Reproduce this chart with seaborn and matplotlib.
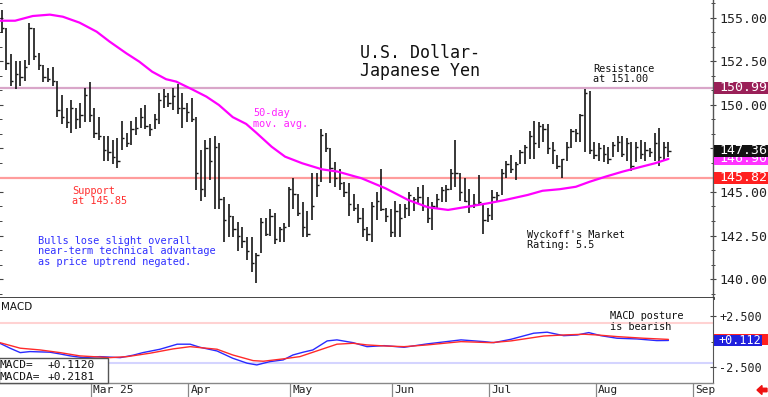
import numpy as np
import pandas as pd
import matplotlib
matplotlib.use('Agg')
import matplotlib.pyplot as plt
import seaborn as sns
from matplotlib.patches import Rectangle, FancyArrow
from matplotlib.ticker import AutoMinorLocator

# ---------------- data ----------------
start_date = '2025-02-04'
highs = [155.46,154.4,152.9,152.5,152.5,152.6,154.7,154.4,153.0,152.3,
         152.1,152.2,151.4,150.6,149.8,150.3,149.8,150.1,151.0,151.3,
         149.8,149.3,148.2,148.2,148.0,148.1,149.1,148.4,149.1,149.3,
         149.8,150.0,148.9,149.5,150.7,150.9,150.7,151.0,151.2,150.7,
         150.1,150.4,149.3,147.4,148.0,148.1,148.2,147.8,144.7,144.3,
         143.6,143.3,143.0,142.4,142.4,141.5,143.5,143.5,144.0,143.8,
         143.0,143.2,145.3,145.8,144.9,144.4,143.9,146.1,146.1,148.6,
         148.4,147.5,146.7,146.3,145.6,145.5,144.9,144.3,144.1,143.0,
         144.4,145.0,146.3,144.1,144.0,144.5,144.3,144.3,145.0,144.7,
         145.3,145.4,144.7,144.4,144.9,145.3,145.4,146.3,148.0,146.1,
         145.8,145.2,144.9,146.0,144.3,144.1,145.1,145.0,146.3,146.8,
         147.1,146.7,147.4,147.7,148.5,149.1,149.0,148.9,148.9,147.9,
         147.1,146.9,147.9,148.6,148.6,149.5,150.9,150.8,147.9,147.8,
         147.7,147.6,147.9,148.2,148.2,148.1,147.9,147.9,148.0,147.9,
         147.5,148.4,148.7,147.9,147.9]
lows = [154.14,152.0,151.1,150.9,151.1,151.4,152.3,152.6,152.0,151.3,
        151.3,151.1,149.3,148.9,148.7,148.4,148.6,148.7,149.0,149.0,
        148.1,148.0,146.8,146.8,146.6,146.4,147.4,147.6,147.7,148.3,
        148.7,148.6,148.2,148.6,148.9,149.8,149.9,149.7,149.5,148.7,
        149.0,149.0,145.1,144.5,144.7,145.7,144.0,144.0,142.1,142.4,
        142.4,141.6,141.8,141.1,140.4,139.8,141.5,142.5,142.5,142.0,
        142.1,142.1,143.0,144.0,143.6,142.4,142.4,143.4,144.7,145.6,
        147.3,145.5,145.3,145.1,144.7,143.6,143.9,143.2,142.4,142.2,
        142.1,143.4,143.9,143.3,142.4,142.4,142.4,143.5,143.6,143.9,
        144.3,143.9,143.2,142.8,144.1,144.4,144.4,145.1,145.3,144.5,
        144.4,143.8,144.1,144.3,142.6,143.3,143.4,144.4,144.8,145.8,
        146.1,145.7,146.6,146.6,146.9,146.9,147.5,147.9,147.2,146.6,
        146.3,145.8,146.8,147.5,147.9,147.9,147.3,147.2,146.9,146.8,
        146.7,146.6,147.0,147.3,147.0,146.8,146.2,146.7,146.9,146.8,
        147.0,146.8,146.5,146.8,147.0]
closes = [154.4,152.4,151.4,151.8,151.6,152.2,154.4,152.8,152.3,151.6,
          151.5,151.4,149.7,149.3,149.0,149.8,149.2,149.4,150.6,149.4,
          148.4,148.2,147.4,147.3,147.0,146.8,148.1,147.8,148.6,148.7,
          149.3,148.8,148.6,149.2,150.3,150.5,150.1,150.5,149.8,149.8,
          149.6,149.2,146.1,145.2,147.5,146.8,147.6,144.6,143.4,143.6,
          142.9,142.5,142.2,141.6,140.9,141.4,143.3,142.6,143.6,142.3,
          142.9,143.0,145.2,144.9,143.8,143.0,142.6,144.2,145.4,148.3,
          147.5,146.4,145.8,145.5,145.0,144.3,144.1,143.5,142.9,142.6,
          144.2,144.5,144.0,143.6,142.7,143.9,143.5,144.1,144.8,144.6,
          144.7,144.2,143.5,144.2,144.6,145.1,145.2,146.1,146.1,145.0,
          144.5,144.2,144.3,144.4,143.4,143.7,144.7,144.8,146.1,146.6,
          146.3,146.6,147.3,147.6,148.2,147.8,148.8,148.6,147.5,147.4,
          146.5,146.9,147.6,148.5,148.4,149.4,150.7,147.4,147.1,147.5,
          147.2,146.9,147.7,147.9,147.2,147.8,146.5,147.6,147.2,147.4,
          147.3,147.8,147.0,147.6,147.36]

ma_idx = [-0.4, 2.9, 6.7, 10.4, 13.2, 16.8, 20.5, 23.3, 26.9, 29.7, 32.5, 35.5, 37.7,
          41.1, 44.2, 46.9, 49.9, 52.8, 55.0, 58.3, 61.2, 64.9, 69.2, 72.6, 76.2, 77.7,
          82.9, 87.8, 92.1, 96.4, 100.7, 105.0, 108.7, 113.6, 116.8, 120.5, 124.0,
          127.0, 130.4, 134.1, 137.7, 141.1, 144.0]
ma_vals = [154.84, 154.84, 155.11, 155.19, 155.07, 154.73, 154.21, 153.64, 152.97,
           152.49, 151.91, 151.48, 151.34, 150.90, 150.48, 150.00, 149.30, 148.91,
           148.40, 147.60, 147.03, 146.65, 146.30, 146.17, 145.90, 145.79, 145.21,
           144.54, 144.12, 143.97, 144.16, 144.35, 144.54, 144.83, 145.07, 145.16,
           145.30, 145.59, 145.88, 146.17, 146.42, 146.65, 146.90]

macd_idx = [-0.4, 1.8, 4.0, 6.1, 10.4, 12.6, 14.8, 17.6, 21.2, 25.6, 28.4, 30.5, 34.2,
            37.9, 40.7, 42.8, 46.5, 49.9, 53.0, 55.1, 57.9, 60.8, 62.9, 65.1, 67.2,
            70.3, 72.4, 75.9, 78.9, 82.6, 86.9, 91.9, 99.2, 104.2, 106.3, 110.0,
            114.9, 117.8, 121.4, 124.3, 126.8, 129.4, 132.9, 137.2, 141.5, 144.0]
macd_vals = [-0.16, -0.64, -1.07, -0.97, -1.03, -1.20, -1.39, -1.56, -1.46, -1.56,
             -1.32, -1.07, -0.74, -0.25, -0.25, -0.55, -0.91, -1.62, -2.10, -2.27,
             -1.95, -1.78, -1.30, -1.03, -0.81, 0.07, 0.17, -0.10, -0.49, -0.39,
             -0.55, -0.22, 0.17, 0.00, -0.10, 0.23, 0.82, 0.92, 0.58, 0.65, 0.88,
             0.58, 0.33, 0.26, 0.10, 0.112]
sig_idx = [-0.4, 4.0, 8.3, 12.6, 16.9, 23.4, 27.1, 32.0, 37.0, 40.7, 46.5, 49.9, 54.3,
           56.5, 60.8, 64.4, 68.7, 72.4, 75.9, 78.9, 82.6, 86.9, 91.9, 99.2, 105.7,
           110.0, 117.1, 121.4, 125.8, 128.6, 132.9, 138.7, 144.0]
sig_vals = [-0.10, -0.64, -0.81, -1.07, -1.39, -1.56, -1.46, -1.13, -0.71, -0.49,
            -0.74, -1.30, -1.85, -1.91, -1.68, -1.46, -0.81, -0.25, -0.16, -0.32,
            -0.42, -0.49, -0.32, 0.00, -0.10, 0.07, 0.55, 0.65, 0.72, 0.65, 0.49,
            0.33, 0.218]

price_ticks = [140.0, 142.5, 145.0, 147.5, 150.0, 152.5, 155.0]
price_tick_labels = ['140.00', '142.50', '145.00', '', '150.00', '152.50', '155.00']
macd_ticks = [-2.5, 2.5]
macd_tick_labels = ['-2.500', '+2.500']
month_labels = ['Mar 25', 'Apr', 'May', 'Jun', 'Jul', 'Aug', 'Sep']
resistance = 150.99
support = 145.82
last_close = 147.36
ma_last = 146.90
macd_last = 0.1120
macda_last = 0.2181
macd_upper = 1.85
macd_lower = -2.1

# ---------------- style ----------------
sns.set_style('white')
plt.rcParams['font.family'] = ['DejaVu Sans Mono', 'DejaVu Sans']
MONO = 'DejaVu Sans Mono'

W, H = 768, 397
fig = plt.figure(figsize=(W / 100, H / 100), dpi=100, facecolor='white')


def fx(px):
    return px / W


def fy(py):
    return 1 - py / H


ax = fig.add_axes([0, fy(298), fx(713), 298 / H])
axm = fig.add_axes([0, fy(383), fx(713), 85 / H])

x0 = -0.37
x1 = x0 + 713 / 4.63

# ---------------- price panel ----------------
n = len(highs)
idx = np.arange(n)
ax.axhline(resistance, color='#d9a6c9', lw=1.6, zorder=1)
ax.axhline(support, color='#ff9c9c', lw=1.6, zorder=1)
ax.vlines(idx, lows, highs, color='#151515', lw=1.2, zorder=3)
ax.hlines(closes, idx, idx + 0.5, color='#151515', lw=1.0, zorder=3)
sns.lineplot(x=ma_idx, y=ma_vals, ax=ax, color='#ff00ff', lw=1.6,
             estimator=None, sort=False, legend=False, zorder=4)
ax.set_xlim(x0, x1)
ax.set_ylim(138.91, 156.03)
ax.set_xticks([])
ax.set_xlabel('')
ax.set_ylabel('')
ax.yaxis.tick_right()
ax.set_yticks(price_ticks)
ax.set_yticklabels(price_tick_labels)
ax.yaxis.set_minor_locator(AutoMinorLocator(3))
ax.tick_params(axis='y', which='major', right=True, left=True, labelleft=False,
               labelright=True, direction='inout', length=5, width=0.8,
               color='#444444', labelcolor='#222222', labelsize=9.5, pad=2)
ax.tick_params(axis='y', which='minor', right=True, left=True, direction='inout',
               length=3, width=0.7, color='#444444')
for s in ['top', 'left']:
    ax.spines[s].set_visible(False)
ax.spines['right'].set_color('#555555')
ax.spines['right'].set_linewidth(1.0)
ax.spines['bottom'].set_color('#333333')
ax.spines['bottom'].set_linewidth(2.0)

# ---------------- MACD panel ----------------
axm.axhline(macd_upper, color='#ffd2d2', lw=1.5, zorder=1)
axm.axhline(macd_lower, color='#d4d4ff', lw=1.5, zorder=1)
sns.lineplot(x=macd_idx, y=macd_vals, ax=axm, color='#2a2aff', lw=1.0,
             estimator=None, sort=False, legend=False, zorder=3)
sns.lineplot(x=sig_idx, y=sig_vals, ax=axm, color='#ff2a2a', lw=1.0,
             estimator=None, sort=False, legend=False, zorder=3)
axm.set_xlim(x0, x1)
axm.set_ylim(-4.03, 4.25)
axm.set_xlabel('')
axm.set_ylabel('')
axm.yaxis.tick_right()
axm.set_yticks(macd_ticks)
axm.set_yticklabels(macd_tick_labels)
axm.yaxis.set_minor_locator(AutoMinorLocator(2))
axm.tick_params(axis='y', which='major', right=True, left=False, labelleft=False,
                labelright=True, direction='inout', length=5, width=0.8,
                color='#444444', labelcolor='#222222', labelsize=8.5, pad=2)
axm.tick_params(axis='y', which='minor', right=True, left=False, direction='inout',
                length=3, width=0.7, color='#444444')
for s in ['top', 'left']:
    axm.spines[s].set_visible(False)
axm.spines['right'].set_color('#555555')
axm.spines['bottom'].set_color('#888888')
axm.spines['bottom'].set_linewidth(1.0)

# month ticks
dates = pd.bdate_range(start_date, periods=n + 15)
months = dates.month.values
month_idx = [i for i in range(1, len(dates)) if months[i] != months[i - 1]][:len(month_labels)]
month_pos = [m + 0.3 for m in month_idx]
axm.set_xticks(month_pos)
axm.set_xticklabels([])
axm.tick_params(axis='x', which='major', bottom=True, direction='out', length=10.5,
                width=0.9, color='#888888')
for pos, lab in zip(month_pos, month_labels):
    axm.annotate(lab, xy=(pos, 0), xycoords=('data', 'axes fraction'),
                 xytext=(1.5, -1.5), textcoords='offset points', ha='left', va='top',
                 fontsize=8, family=MONO, color='#222222', annotation_clip=False)

# ---------------- value boxes on the right ----------------
fig.canvas.draw()


def value_box(axis, val, label, fc, xa, xb, z, size, h=12):
    ypix = axis.transData.transform((0, val))[1]
    rect = Rectangle((fx(xa), (ypix - h / 2) / H), (xb - xa) / W, h / H,
                     transform=fig.transFigure, fc=fc, ec='none', zorder=z)
    fig.add_artist(rect)
    fig.text(fx(xb - 1), ypix / H, label, color='white', ha='right', va='center',
             fontsize=size, family=MONO, zorder=z + 0.5)


value_box(ax, resistance, f'{resistance:.2f}', '#9a2058', 714, 768, 5, 9.5)
value_box(ax, ma_last, f'{ma_last:.2f}', '#ff33ff', 714, 768, 6, 9.5)
value_box(ax, last_close, f'{last_close:.2f}', '#111111', 714, 768, 7, 9.5)
value_box(ax, support, f'{support:.2f}', '#ff2020', 714, 768, 8, 9.5)
value_box(axm, macda_last, '', '#ff2020', 714, 768, 5, 8.5, h=11)
value_box(axm, macd_last, f'{macd_last:+.3f}', '#2020dd', 714, 762, 6, 8.5, h=11)

# ---------------- annotations ----------------
def ftxt(x, y, s, color='#111111', size=7.4, **kw):
    fig.text(fx(x), fy(y), s, color=color, fontsize=size, family=MONO,
             ha='left', va='center', zorder=10, **kw)


ftxt(360, 52.7, 'U.S. Dollar-', size=12)
ftxt(360, 70.5, 'Japanese Yen', size=12)
ftxt(593, 68.5, 'Resistance')
ftxt(593, 79.2, 'at 151.00')
ftxt(253, 113, '50-day', color='#ff22ff')
ftxt(253, 124, 'mov. avg.', color='#ff22ff')
ftxt(72, 190.7, 'Support', color='#ff3030')
ftxt(72, 201, 'at 145.85', color='#ff3030')
ftxt(38, 240.7, 'Bulls lose slight overall', color='#3030ff')
ftxt(38, 251.3, 'near-term technical advantage', color='#3030ff')
ftxt(38, 262, 'as price uptrend negated.', color='#3030ff')
ftxt(527, 234.7, "Wyckoff's Market")
ftxt(527, 245.3, 'Rating: 5.5')
ftxt(610, 316, 'MACD posture')
ftxt(610, 326.7, 'is bearish')
fig.text(fx(1), fy(307), 'MACD', fontsize=7.5, family='DejaVu Sans', color='#111111',
         ha='left', va='center', zorder=10)

# MACD info box
fig.add_artist(Rectangle((fx(-1), fy(383)), 109 / W, 25 / H, transform=fig.transFigure,
                         fc='white', ec='#555555', lw=1.0, zorder=9))
ftxt(-1, 364.5, 'MACD=', size=8)
ftxt(48, 364.5, f'{macd_last:+.4f}', size=8)
ftxt(-1, 376.5, 'MACDA=', size=8)
ftxt(48, 376.5, f'{macda_last:+.4f}', size=8)

# small red arrow bottom right
fig.add_artist(FancyArrow(fx(767), fy(390), -10 / W, 0, width=3.5 / H,
                          head_width=9 / H, head_length=5 / W, length_includes_head=True,
                          transform=fig.transFigure, color='#ee1111', zorder=10))

fig.savefig('out.png', dpi=100, facecolor='white')
